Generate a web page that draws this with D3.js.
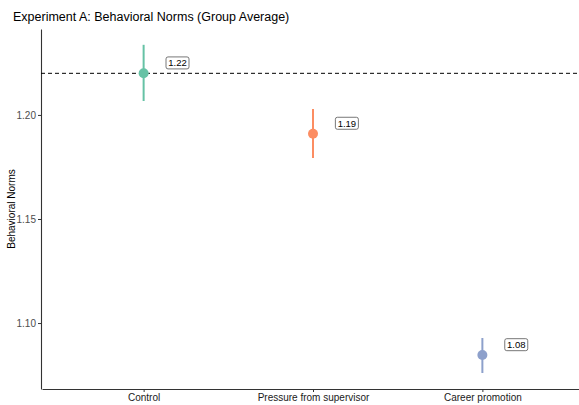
<!DOCTYPE html>
<html>
<head>
<meta charset="utf-8">
<script src="https://cdn.jsdelivr.net/npm/d3@7"></script>
<style>
  body { margin: 0; background: #fff; }
  svg { font-family: "Liberation Sans", Arial, Helvetica, sans-serif; }
</style>
</head>
<body>
<div id="chart"></div>
<script>
// Group averages with 95% intervals
const categories = ['Control', 'Pressure from supervisor', 'Career promotion'];
const means = [1.22, 1.191, 1.0846];
const lower = [1.2067, 1.1793, 1.076];
const upper = [1.2337, 1.2029, 1.0928];
const labels = ['1.22', '1.19', '1.08'];
const colors = ['#66c2a5', '#fc8d62', '#8da0cb'];
const yTicks = [1.10, 1.15, 1.20];
const refLine = 1.22;

const width = 579, height = 405;
const margin = { top: 29, right: -5, bottom: 16, left: 41 };

const svg = d3.select('#chart').append('svg')
  .attr('width', width)
  .attr('height', height);

const x = d3.scalePoint()
  .domain(categories)
  .range([margin.left + 1, width - margin.right])
  .padding(0.6);

const y = d3.scaleLinear()
  .domain([1.0683, 1.2413])
  .range([height - margin.bottom, margin.top]);

// Title
svg.append('text')
  .attr('x', 13)
  .attr('y', 21)
  .style('font-size', '12.5px')
  .style('fill', '#000')
  .text('Experiment A: Behavioral Norms (Group Average)');

// Y axis
const yAxis = svg.append('g')
  .attr('transform', `translate(${margin.left},0)`)
  .call(d3.axisLeft(y).tickValues(yTicks).tickFormat(d3.format('.2f'))
    .tickSize(3).tickSizeOuter(0).tickPadding(2));
yAxis.select('.domain').attr('stroke', '#333').attr('stroke-width', 1.1);
yAxis.selectAll('.tick line').attr('stroke', '#333');
yAxis.selectAll('.tick text').style('font-size', '10px').style('fill', '#4d4d4d');

// X axis
const xAxis = svg.append('g')
  .attr('transform', `translate(0,${height - margin.bottom})`)
  .call(d3.axisBottom(x).tickSize(3).tickSizeOuter(0).tickPadding(2));
xAxis.select('.domain').attr('stroke', '#333').attr('stroke-width', 1.1);
xAxis.selectAll('.tick line').attr('stroke', '#333');
xAxis.selectAll('.tick text').style('font-size', '10px').style('fill', '#1a1a1a');

// Y axis title
svg.append('text')
  .attr('transform', `translate(15,${(margin.top + height - margin.bottom) / 2}) rotate(-90)`)
  .attr('text-anchor', 'middle')
  .style('font-size', '10px')
  .style('fill', '#000')
  .text('Behavioral Norms');

// Reference line
svg.append('line')
  .attr('x1', margin.left)
  .attr('x2', width)
  .attr('y1', y(refLine))
  .attr('y2', y(refLine))
  .attr('stroke', '#000')
  .attr('stroke-width', 1)
  .attr('stroke-dasharray', '4,3');

// Error bars
svg.append('g').selectAll('line')
  .data(categories)
  .join('line')
  .attr('x1', d => x(d))
  .attr('x2', d => x(d))
  .attr('y1', (d, i) => y(lower[i]))
  .attr('y2', (d, i) => y(upper[i]))
  .attr('stroke', (d, i) => colors[i])
  .attr('stroke-width', 2);

// Points
svg.append('g').selectAll('circle')
  .data(categories)
  .join('circle')
  .attr('cx', d => x(d))
  .attr('cy', (d, i) => y(means[i]))
  .attr('r', 5)
  .attr('fill', (d, i) => colors[i]);

// Value labels
const labelG = svg.append('g').selectAll('g')
  .data(categories)
  .join('g')
  .attr('transform', (d, i) => `translate(${x(d) + x.step() * 0.2},${y(means[i] + 0.005)})`);

labelG.append('rect')
  .attr('x', -11.5)
  .attr('y', -6)
  .attr('width', 23)
  .attr('height', 12)
  .attr('rx', 2)
  .attr('fill', '#fff')
  .attr('stroke', '#555')
  .attr('stroke-width', 0.8);

labelG.append('text')
  .attr('text-anchor', 'middle')
  .attr('dy', '0.35em')
  .style('font-size', '9.5px')
  .style('fill', '#000')
  .text((d, i) => labels[i]);
</script>
</body>
</html>
